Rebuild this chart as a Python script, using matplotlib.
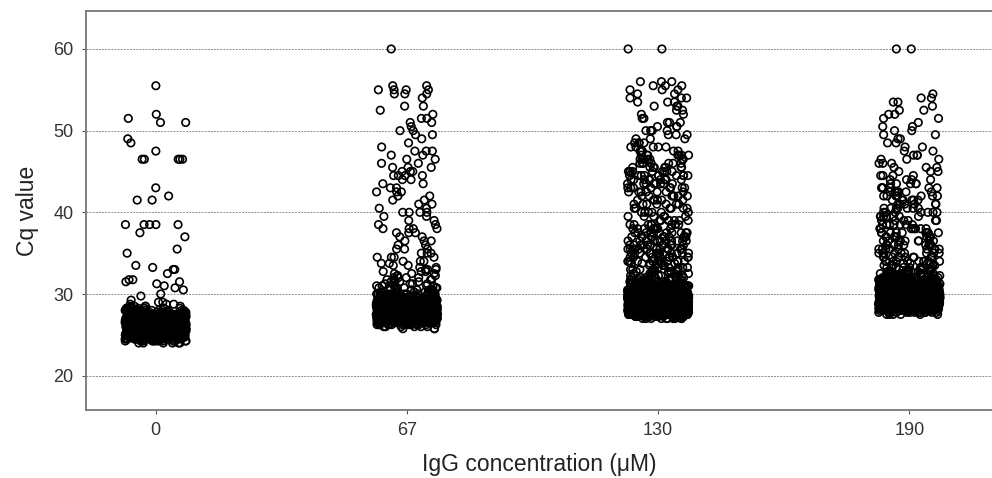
"""
Cq value vs IgG concentration
------------------------------
Jittered strip plot of Cq values for four IgG concentrations.
Values are read off the reference as counts per Cq level: a fine
0.25-cycle table for the dense band and a 0.5-cycle table above it.
"""
import numpy as np
import matplotlib
matplotlib.use("Agg")
import matplotlib.pyplot as plt

plt.rcParams["font.family"] = ["Liberation Sans", "DejaVu Sans"]

CONCENTRATIONS = ["0", "67", "130", "190"]

# dense band, 0.25 cycle apart
CORE_LEVELS = [
    24.0, 24.25, 24.5, 24.75, 25.0, 25.25, 25.5, 25.75,
    26.0, 26.25, 26.5, 26.75, 27.0, 27.25, 27.5, 27.75,
    28.0, 28.25, 28.5, 28.75, 29.0, 29.25, 29.5, 29.75,
    30.0, 30.25, 30.5, 30.75, 31.0, 31.25, 31.5, 31.75,
    32.0, 32.25, 32.5, 32.75, 33.0, 33.25, 33.5, 33.75,
]

# sparse tail, 0.5 cycle apart
TAIL_LEVELS = [
    34.0, 34.5, 35.0, 35.5, 36.0, 36.5, 37.0, 37.5, 38.0, 38.5,
    39.0, 39.5, 40.0, 40.5, 41.0, 41.5, 42.0, 42.5, 43.0, 43.5,
    44.0, 44.5, 45.0, 45.5, 46.0, 46.5, 47.0, 47.5, 48.0, 48.5,
    49.0, 49.5, 50.0, 50.5, 51.0, 51.5, 52.0, 52.5, 53.0, 53.5,
    54.0, 54.5, 55.0, 55.5, 56.0, 56.5, 57.0, 57.5, 58.0, 58.5,
    59.0, 59.5, 60.0,
]

# wells per level, IgG 0 uM
CORE_0 = [
    6, 14, 24, 40, 58, 72, 82, 84,
    86, 82, 78, 70, 60, 48, 36, 24,
    16, 9, 5, 3, 2, 1, 0, 1,
    1, 0, 1, 1, 1, 1, 2, 2,
    0, 0, 1, 0, 2, 1, 1, 0,
]
TAIL_0 = [
    0, 0, 1, 1, 0, 0, 1, 1, 0, 5,
    0, 0, 0, 0, 0, 2, 1, 0, 1, 0,
    0, 0, 0, 0, 0, 5, 0, 1, 0, 1,
    1, 0, 0, 0, 2, 1, 1, 0, 0, 0,
    0, 0, 0, 1, 0, 0, 0, 0, 0, 0,
    0, 0, 0,
]

# IgG 67 uM
CORE_67 = [
    0, 0, 0, 0, 0, 0, 0, 3,
    6, 14, 24, 40, 58, 72, 84, 86,
    86, 80, 70, 60, 48, 38, 26, 19,
    14, 10, 8, 6, 5, 4, 4, 4,
    4, 3, 3, 3, 3, 2, 2, 2,
]
TAIL_67 = [
    3, 4, 3, 3, 2, 3, 2, 3, 4, 2,
    2, 2, 4, 2, 2, 2, 2, 3, 2, 2,
    2, 4, 3, 3, 2, 2, 2, 3, 1, 1,
    1, 2, 2, 1, 2, 2, 1, 1, 2, 0,
    1, 3, 4, 2, 0, 0, 0, 0, 0, 0,
    0, 0, 1,
]

# IgG 130 uM
CORE_130 = [
    0, 0, 0, 0, 0, 0, 0, 0,
    0, 0, 0, 0, 10, 20, 36, 50,
    64, 76, 84, 86, 86, 84, 76, 68,
    56, 44, 34, 26, 20, 15, 11, 9,
    7, 7, 6, 6, 6, 5, 5, 5,
]
TAIL_130 = [
    11, 12, 12, 13, 11, 11, 12, 12, 10, 9,
    7, 6, 6, 6, 7, 6, 7, 7, 8, 8,
    9, 10, 9, 8, 7, 7, 7, 6, 5, 4,
    3, 3, 4, 3, 3, 2, 2, 2, 3, 3,
    3, 2, 3, 3, 3, 0, 0, 0, 0, 0,
    0, 0, 2,
]

# IgG 190 uM
CORE_190 = [
    0, 0, 0, 0, 0, 0, 0, 0,
    0, 0, 0, 0, 0, 0, 6, 14,
    24, 36, 50, 65, 72, 78, 84, 86,
    86, 84, 78, 72, 62, 53, 40, 30,
    20, 15, 11, 9, 6, 6, 5, 5,
]
TAIL_190 = [
    10, 10, 9, 9, 9, 9, 8, 9, 8, 7,
    6, 7, 7, 7, 6, 6, 7, 7, 6, 5,
    4, 4, 3, 3, 3, 3, 3, 2, 2, 2,
    2, 2, 2, 2, 1, 2, 2, 2, 1, 2,
    2, 1, 0, 0, 0, 0, 0, 0, 0, 0,
    0, 0, 2,
]

Y_TICKS = [20, 30, 40, 50, 60]

JITTER = 0.122


def main():
    fig = plt.figure(figsize=(9.92, 4.78), dpi=100)
    ax = fig.add_axes([0.0867, 0.1423, 0.9133, 0.8347])

    # horizontal jitter only (drawing offsets, like a strip plot) - the Cq
    # values themselves come straight from the count tables above
    jitter = np.random.default_rng(7)

    groups = [(CORE_0, TAIL_0), (CORE_67, TAIL_67),
              (CORE_130, TAIL_130), (CORE_190, TAIL_190)]
    for i, (core, tail) in enumerate(groups):
        cq = np.concatenate([np.repeat(CORE_LEVELS, core),
                             np.repeat(TAIL_LEVELS, tail)])
        x = i + jitter.uniform(-JITTER, JITTER, len(cq))
        ax.scatter(x, cq, s=29, facecolors="none", edgecolors="black",
                   linewidths=1.2, zorder=3)

    ax.set_xlim(-0.277, 3.329)
    ax.set_ylim(15.8, 64.65)
    ax.set_xticks(range(len(CONCENTRATIONS)))
    ax.set_xticklabels(CONCENTRATIONS)
    ax.set_yticks(Y_TICKS)

    ax.yaxis.grid(True, color="#8c8c8c", linestyle=(0, (2.0, 1.2)), linewidth=0.7)
    ax.set_axisbelow(True)

    for side in ["left", "bottom", "top"]:
        ax.spines[side].set_color("#777777")
        ax.spines[side].set_linewidth(1.3)
    ax.spines["right"].set_visible(False)

    ax.tick_params(axis="both", length=3, color="#555555", labelsize=13,
                   labelcolor="#333333", pad=6)
    ax.set_xlabel("IgG concentration (μM)", fontsize=16.5, color="#222222", labelpad=10)
    ax.set_ylabel("Cq value", fontsize=16.5, color="#222222", labelpad=10)

    fig.savefig("out.png", dpi=100)
    plt.close(fig)


if __name__ == "__main__":
    main()
